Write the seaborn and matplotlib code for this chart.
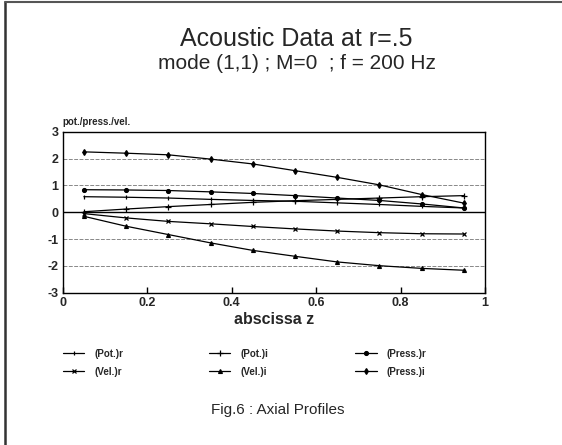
import matplotlib
matplotlib.use("Agg")
import matplotlib.pyplot as plt
import seaborn as sns
import numpy as np
import pandas as pd
from matplotlib.lines import Line2D

sns.set_theme(style="white")
plt.rcParams['font.family'] = ['Liberation Sans', 'DejaVu Sans']

z = [0.05, 0.15, 0.25, 0.35, 0.45, 0.55, 0.65, 0.75, 0.85, 0.95]
pot_r = [0.58, 0.56, 0.53, 0.48, 0.44, 0.41, 0.35, 0.29, 0.22, 0.16]
pot_i = [0.02, 0.12, 0.21, 0.29, 0.37, 0.43, 0.48, 0.53, 0.58, 0.62]
press_r = [0.84, 0.83, 0.81, 0.76, 0.70, 0.62, 0.53, 0.44, 0.31, 0.16]
vel_r = [-0.05, -0.21, -0.34, -0.43, -0.53, -0.62, -0.70, -0.76, -0.80, -0.81]
vel_i = [-0.15, -0.52, -0.83, -1.14, -1.42, -1.64, -1.85, -1.99, -2.09, -2.16]
press_i = [2.25, 2.20, 2.14, 1.98, 1.80, 1.55, 1.30, 1.02, 0.66, 0.34]

labels = ["(Pot.)r", "(Pot.)i", "(Press.)r", "(Vel.)r", "(Vel.)i", "(Press.)i"]
series = [pot_r, pot_i, press_r, vel_r, vel_i, press_i]
markers = ["|", "+", "o", "x", "^", "d"]
msizes = [2.5, 5, 2.8, 3, 2.8, 3]

yticks = [-3, -2, -1, 0, 1, 2, 3]
xticks = [0, 0.2, 0.4, 0.6, 0.8, 1]

fig = plt.figure(figsize=(5.62, 4.45), dpi=100)
ax = fig.add_axes([0.1116, 0.342, 0.7514, 0.362])

for yv in [-2, -1, 1, 2]:
    ax.axhline(yv, color="#888888", lw=0.7, ls=(0, (4, 1.5)), zorder=0)
ax.axhline(0, color="black", lw=1.0, zorder=1)

handles = []
for lab, vals, mk, ms in zip(labels, series, markers, msizes):
    sns.lineplot(x=z, y=vals, ax=ax, color="black", lw=0.9, marker=mk,
                 markersize=ms, markeredgecolor="black", markerfacecolor="black",
                 markeredgewidth=0.9)
    handles.append(Line2D([0], [0], color="black", lw=0.9, marker=mk,
                          markersize=ms, markeredgecolor="black",
                          markerfacecolor="black", markeredgewidth=0.9))

ax.set_xlim(0, 1)
ax.set_ylim(-3, 3)
ax.set_xticks(xticks)
ax.set_xticklabels(["0", "0.2", "0.4", "0.6", "0.8", "1"])
ax.set_yticks(yticks)
ax.set_yticklabels(["-3", "-2", "-1", "0", "1", "2", "3"])
ax.tick_params(axis="both", labelsize=9, pad=3)
for t in ax.get_xticklabels() + ax.get_yticklabels():
    t.set_fontweight("bold")
ax.tick_params(axis="x", direction="in", length=4, width=1, bottom=True, color="black")
ax.tick_params(axis="y", length=0)
for s in ax.spines.values():
    s.set_color("black")
    s.set_linewidth(1.0)
ax.set_xlabel("abscissa z", fontsize=11.5, fontweight="bold", labelpad=2)
ax.set_ylabel("")
ax.text(0.0, 1.03, "pot./press./vel.", transform=ax.transAxes, fontsize=7,
        fontweight="bold", ha="left", va="bottom")

fig.text(0.528, 0.913, "Acoustic Data at r=.5", fontsize=18, ha="center", va="center")
fig.text(0.528, 0.858, "mode (1,1) ; M=0  ; f = 200 Hz", fontsize=15, ha="center", va="center")

col_x = [0.112, 0.372, 0.632]
for c in range(3):
    idx = [c, c + 3]
    leg = fig.legend([handles[i] for i in idx], [labels[i] for i in idx],
                     loc="center left", bbox_to_anchor=(col_x[c], 0.185),
                     frameon=False, fontsize=7, handlelength=2.2,
                     labelspacing=0.85, handletextpad=1.0,
                     borderpad=0, borderaxespad=0)
    for t in leg.get_texts():
        t.set_fontweight("bold")

fig.text(0.495, 0.079, "Fig.6 : Axial Profiles", fontsize=11, ha="center", va="center")

fig.add_artist(Line2D([0.009, 0.009], [0.0, 0.995], color="#333333", lw=1.8, transform=fig.transFigure))
fig.add_artist(Line2D([0.009, 1.0], [0.995, 0.995], color="#555555", lw=1.5, transform=fig.transFigure))

fig.savefig("out.png", dpi=100, facecolor="white")
